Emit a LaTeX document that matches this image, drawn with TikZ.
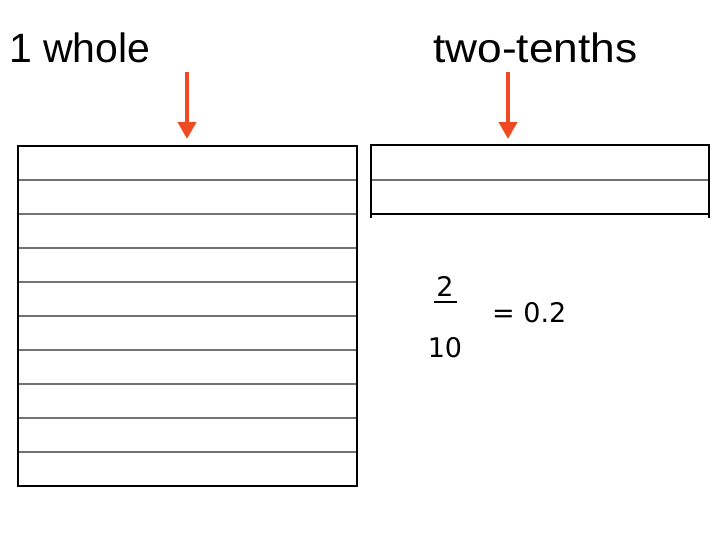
\documentclass[tikz,border=0pt]{standalone}
\usepackage{fontspec}
\usetikzlibrary{arrows.meta}
\setmainfont{Liberation Sans}
\newfontfamily\numfont{DejaVu Sans}
\definecolor{arr}{HTML}{F04A23}
\begin{document}
\begin{tikzpicture}[x=1pt,y=-1pt,
  title/.style={font=\fontsize{41}{44}\selectfont,inner sep=0,anchor=base west},
  num/.style={font=\numfont\fontsize{27}{30}\selectfont,inner sep=0,anchor=base},
  redarrow/.style={draw=arr,line width=4pt,-{Triangle[width=18pt,length=17pt]}},
  inner/.style={draw=black!55,line width=1.4pt},
  outer/.style={draw=black,line width=1.4pt}]
\useasboundingbox (0,0) rectangle (728,546);
\node[title] (t1) at (9,62) {1 whole};
\node[title,xscale=1.08] (t2) at (433,62) {two-tenths};
\coordinate (a1s) at (187,72); \coordinate (a1e) at (187,139);
\coordinate (a2s) at (508,72); \coordinate (a2e) at (508,139);
\draw[redarrow] (a1s) -- (a1e);
\draw[redarrow] (a2s) -- (a2e);
% left block
\foreach \i in {1,...,9} \draw[inner] (18,{146+34*\i}) -- (357,{146+34*\i});
\draw[outer] (18,146) rectangle (357,486);
% right block
\draw[inner] (371,180) -- (709,180);
\draw[outer] (371,218) -- (371,145) -- (709,145) -- (709,218);
\draw[outer] (371,214) -- (709,214);
% fraction
\node[num] (n2) at (445,296) {2};
\draw[line width=1.2pt] (434,302) -- (457,302);
\node[num] (n10) at (445,357) {10};
\node[num,anchor=base west] (eq) at (492,322) {= 0.2};
\end{tikzpicture}
\end{document}
